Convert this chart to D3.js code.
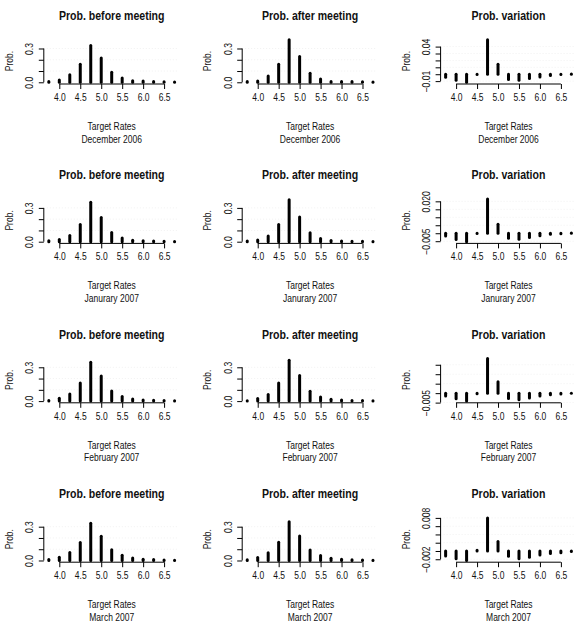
<!DOCTYPE html>
<html>
<head>
<meta charset="utf-8">
<script src="https://cdn.jsdelivr.net/npm/d3@7"></script>
<style>
  body { margin: 0; background: #fff; }
  svg text { font-family: "Liberation Sans", Arial, sans-serif; fill: #111; }
</style>
</head>
<body>
<svg id="chart"></svg>
<script>
const width = 578;
const height = 624;

// target rates on the x axis
const rates = [3.75, 4.0, 4.25, 4.5, 4.75, 5.0, 5.25, 5.5, 5.75, 6.0, 6.25, 6.5, 6.75];
const xTicks = [4.0, 4.5, 5.0, 5.5, 6.0, 6.5];
const months = ["December 2006", "Janurary 2007", "February 2007", "March 2007"];
const titles = ["Prob. before meeting", "Prob. after meeting", "Prob. variation"];

// probabilities
const beforeDec = [0.008, 0.02, 0.068, 0.16, 0.326, 0.215, 0.089, 0.038, 0.014, 0.012, 0.008, 0.005, 0.002];
const afterDec  = [0.006, 0.012, 0.056, 0.16, 0.378, 0.23, 0.081, 0.03, 0.008, 0.008, 0.006, 0.004, 0.002];
const varDec    = [-0.0044, -0.0087, -0.0117, -0.0003, 0.050, 0.0146, -0.0078, -0.0087, -0.0063, -0.0039, -0.0019, -0.0005, 0.0004];

const beforeJan = [0.008, 0.019, 0.055, 0.153, 0.35, 0.215, 0.082, 0.032, 0.013, 0.009, 0.006, 0.004, 0.002];
const afterJan  = [0.006, 0.015, 0.05, 0.153, 0.372, 0.22, 0.079, 0.028, 0.010, 0.007, 0.005, 0.004, 0.002];
const varJan    = [-0.0018, -0.0039, -0.0053, -0.0002, 0.0214, 0.0057, -0.0032, -0.0038, -0.0026, -0.0015, -0.0007, -0.0003, 0.0001];

const beforeFeb = [0.005, 0.025, 0.062, 0.16, 0.345, 0.222, 0.09, 0.04, 0.018, 0.01, 0.007, 0.005, 0.003];
const afterFeb  = [0.004, 0.022, 0.058, 0.16, 0.363, 0.228, 0.087, 0.036, 0.016, 0.009, 0.006, 0.005, 0.003];
const varFeb    = [-0.0015, -0.003, -0.0042, -0.0003, 0.0183, 0.006, -0.0028, -0.0035, -0.0025, -0.0015, -0.0008, -0.0004, 0.0];

const beforeMar = [0.008, 0.028, 0.07, 0.16, 0.33, 0.215, 0.095, 0.047, 0.022, 0.011, 0.008, 0.005, 0.003];
const afterMar  = [0.007, 0.026, 0.068, 0.162, 0.343, 0.218, 0.094, 0.045, 0.02, 0.01, 0.007, 0.005, 0.003];
const varMar    = [-0.0012, -0.0019, -0.0023, 0.0002, 0.0080, 0.0023, -0.0013, -0.0019, -0.0015, -0.0010, -0.0006, -0.0004, -0.0001];

// y tick values and the labels that show on each
const probTicks = [0, 0.1, 0.2, 0.3];
const probLabels = ["0.0", "", "", "0.3"];
const varTicksDec = [-0.01, 0, 0.01, 0.02, 0.03, 0.04];
const varLabelsDec = ["\u22120.01", "", "", "", "", "0.04"];
const varTicksJan = [-0.005, 0, 0.005, 0.01, 0.015, 0.02];
const varLabelsJan = ["\u22120.005", "", "", "", "", "0.020"];
const varTicksFeb = [-0.005, 0, 0.005, 0.01, 0.015];
const varLabelsFeb = ["\u22120.005", "", "", "", ""];
const varTicksMar = [-0.002, 0, 0.002, 0.004, 0.006, 0.008];
const varLabelsMar = ["\u22120.002", "", "", "", "", "0.008"];

const panels = [
  [beforeDec, afterDec, varDec, varTicksDec, varLabelsDec],
  [beforeJan, afterJan, varJan, varTicksJan, varLabelsJan],
  [beforeFeb, afterFeb, varFeb, varTicksFeb, varLabelsFeb],
  [beforeMar, afterMar, varMar, varTicksMar, varLabelsMar]
];

// layout (the picture is a crop of a bigger 4x3 grid)
const rowPitch = 159.4, rowStart = -13.6;
const colPitch = 198.4, colStart = 43.8;
const plotW = 135.8, plotH = 46, plotBottom = 97.6;

const svg = d3.select("#chart").attr("width", width).attr("height", height);

// pad a range by 4% each side like R does
function padded(lo, hi) {
  let d = (hi - lo) * 0.04;
  return [lo - d, hi + d];
}

function drawPanel(r, c, values, ylo, yhi, ticks, labels) {
  let left = colStart + c * colPitch;
  let bottom = rowStart + r * rowPitch + plotBottom;
  let top = bottom - plotH;

  let x = d3.scaleLinear().domain(padded(3.75, 6.75)).range([left, left + plotW]);
  let y = d3.scaleLinear().domain(padded(ylo, yhi)).range([bottom, top]);

  let g = svg.append("g");

  // faint grid behind the bars
  g.selectAll(".grid")
    .data(ticks.filter(t => t !== 0))
    .enter().append("line")
    .attr("x1", left + 3).attr("x2", left + plotW - 2)
    .attr("y1", d => y(d)).attr("y2", d => y(d))
    .attr("stroke", "#f1f1f1").attr("stroke-dasharray", "1,2");

  // bars, type = "h"
  g.selectAll(".bar")
    .data(values)
    .enter().append("line")
    .attr("x1", (d, i) => x(rates[i])).attr("x2", (d, i) => x(rates[i]))
    .attr("y1", y(0)).attr("y2", d => y(d))
    .attr("stroke", "#000").attr("stroke-width", 3).attr("stroke-linecap", "round");

  // x axis
  let xa = g.append("g").attr("transform", "translate(0," + bottom + ")")
    .call(d3.axisBottom(x).tickValues(xTicks).tickFormat(d3.format(".1f")).tickSize(5).tickPadding(5));
  xa.select(".domain").attr("d", "M" + x(4) + ",0H" + x(6.5)).attr("stroke", "#000");
  xa.selectAll(".tick line").attr("stroke", "#000");
  xa.selectAll("text").attr("class", "narrow").style("font-size", "10px").attr("fill", "#111");

  // y axis
  let ya = g.append("g").attr("transform", "translate(" + left + ",0)")
    .call(d3.axisLeft(y).tickValues(ticks).tickSize(5).tickFormat((d, i) => labels[i]));
  ya.select(".domain").attr("d", "M0," + y(ticks[0]) + "V" + y(ticks[ticks.length - 1])).attr("stroke", "#000");
  ya.selectAll(".tick line").attr("stroke", "#000");
  ya.selectAll("text")
    .attr("class", "narrow")
    .style("font-size", "10px").attr("fill", "#111")
    .attr("text-anchor", "middle")
    .attr("x", null).attr("dy", null)
    .attr("transform", "translate(-10.5,0) rotate(-90)");

  // title and axis titles
  g.append("text")
    .attr("class", "title")
    .attr("x", left + plotW / 2).attr("y", top - 18)
    .attr("text-anchor", "middle")
    .style("font-size", "12px").style("font-weight", "bold")
    .text(titles[c]);

  g.append("text")
    .attr("class", "narrow")
    .attr("transform", "translate(" + (left - 31) + "," + (bottom - plotH / 2) + ") rotate(-90)")
    .attr("text-anchor", "middle")
    .style("font-size", "10px")
    .text("Prob.");

  g.append("text")
    .attr("class", "narrow")
    .attr("x", left + plotW / 2).attr("y", bottom + 46)
    .attr("text-anchor", "middle").style("font-size", "10px")
    .text("Target Rates");

  g.append("text")
    .attr("class", "narrow")
    .attr("x", left + plotW / 2).attr("y", bottom + 58.5)
    .attr("text-anchor", "middle").style("font-size", "10px")
    .text(months[r]);
}

// the probability panels all share one y range
let allProbs = [];
panels.forEach(p => { allProbs = allProbs.concat(p[0], p[1]); });
const probLo = Math.min(0, d3.min(allProbs));
const probHi = d3.max(allProbs);

panels.forEach((p, r) => {
  let variation = p[2];
  drawPanel(r, 0, p[0], probLo, probHi, probTicks, probLabels);
  drawPanel(r, 1, p[1], probLo, probHi, probTicks, probLabels);
  drawPanel(r, 2, variation, d3.min(variation), d3.max(variation), p[3], p[4]);
});

// the original uses a narrow face: squeeze the text horizontally
function squeeze(sel, k) {
  sel.each(function() {
    let len = this.getComputedTextLength();
    if (len > 0) d3.select(this).attr("textLength", len * k).attr("lengthAdjust", "spacingAndGlyphs");
  });
}
squeeze(svg.selectAll("text.narrow"), 0.85);
squeeze(svg.selectAll("text.title"), 0.88);
</script>
</body>
</html>
